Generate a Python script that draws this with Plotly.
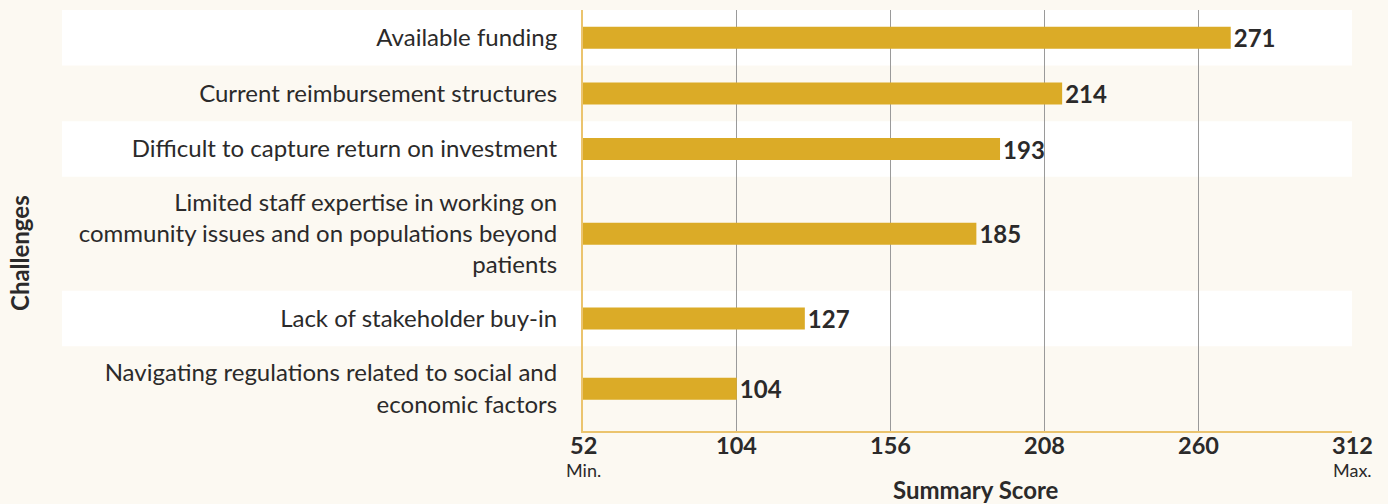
import plotly.graph_objects as go

# ---- data ----
challenges = [
    "Available funding",
    "Current reimbursement structures",
    "Difficult to capture return on investment",
    "Limited staff expertise in working on<br>community issues and on populations beyond<br>patients",
    "Lack of stakeholder buy-in",
    "Navigating regulations related to social and<br>economic factors",
]
scores = [271, 214, 193, 185, 127, 104]
x_ticks = [52, 104, 156, 208, 260, 312]
x_min_label = "Min."
x_max_label = "Max."
x_title = "Summary Score"
y_title = "Challenges"

# ---- styling ----
BG = "#fcf9f2"
BAR = "#dbab27"
AXIS_GOLD = "#ebc46e"
TEXT = "#2b2a2a"
FONT = "Lato"

# row layout derived from number of label lines
PAD, LINE_H = 26.0, 28.5
heights = [PAD + LINE_H * (lab.count("<br>") + 1) for lab in challenges]
bounds = [0.0]
for h in heights:
    bounds.append(bounds[-1] + h)
centers = [(bounds[i] + bounds[i + 1]) / 2 for i in range(len(heights))]
total = bounds[-1]

PLOT_L, PLOT_R, PLOT_T, PLOT_B = 583, 1352, 10, 431
W, H = 1388, 504
plot_h = PLOT_B - PLOT_T
unit_per_px = total / plot_h
bar_w = 22 * unit_per_px

fig = go.Figure(
    go.Bar(
        x=scores,
        y=centers,
        orientation="h",
        width=bar_w,
        marker=dict(color=BAR, line=dict(width=0)),
        text=[f"<b>{v}</b>" for v in scores],
        textposition="outside",
        constraintext="none",
        textfont=dict(family=FONT, size=24, color=TEXT),
        cliponaxis=False,
        hoverinfo="skip",
    )
)

# alternating row bands extending into the label area
band_x0 = (62 - PLOT_L) / (PLOT_R - PLOT_L)
for i in range(len(heights)):
    if i % 2 == 0:
        fig.add_shape(
            type="rect", xref="paper", yref="y",
            x0=band_x0, x1=1, y0=bounds[i], y1=bounds[i + 1],
            fillcolor="#ffffff", line=dict(width=0), layer="below",
        )

fig.update_xaxes(
    range=[x_ticks[0], x_ticks[-1]],
    tickvals=x_ticks,
    showticklabels=False,
    showgrid=True, gridcolor="#9a9a9a", gridwidth=1,
    showline=True, linecolor=AXIS_GOLD, linewidth=2,
    zeroline=False, ticks="",
)
fig.update_yaxes(
    range=[total, 0],
    tickvals=centers,
    ticktext=challenges,
    tickfont=dict(family=FONT, size=24, color=TEXT),
    showgrid=False, zeroline=False,
    showline=True, linecolor=AXIS_GOLD, linewidth=2,
    ticks="", ticklabelstandoff=19,
)

def px_x(px):
    return (px - PLOT_L) / (PLOT_R - PLOT_L)

def px_y(py):
    return (PLOT_B - py) / plot_h

# x tick labels (placed on the x axis scale)
for t in x_ticks:
    fig.add_annotation(text=f"<b>{t}</b>", x=t, xref="x", y=px_y(445), yref="paper",
                       showarrow=False, font=dict(family=FONT, size=23.5, color=TEXT),
                       xanchor="center", yanchor="middle", borderpad=0)

fig.add_annotation(text=x_min_label, x=x_ticks[0], xref="x", y=px_y(470), yref="paper",
                   showarrow=False, font=dict(family=FONT, size=18, color=TEXT),
                   xanchor="center", yanchor="middle", borderpad=0)
fig.add_annotation(text=x_max_label, x=x_ticks[-1], xref="x", y=px_y(470), yref="paper",
                   showarrow=False, font=dict(family=FONT, size=18, color=TEXT),
                   xanchor="center", yanchor="middle", borderpad=0)
fig.add_annotation(text=f"<b>{x_title}</b>", x=px_x(976), xref="paper", y=px_y(489), yref="paper",
                   showarrow=False, font=dict(family=FONT, size=24, color=TEXT),
                   xanchor="center", yanchor="middle")
fig.add_annotation(text=f"<b>{y_title}</b>", x=px_x(20), xref="paper", y=px_y(253), yref="paper",
                   showarrow=False, textangle=-90, font=dict(family=FONT, size=24, color=TEXT),
                   xanchor="center", yanchor="middle")

fig.update_layout(
    width=W, height=H,
    margin=dict(l=PLOT_L, r=W - PLOT_R, t=PLOT_T, b=H - PLOT_B, autoexpand=False),
    paper_bgcolor=BG, plot_bgcolor=BG,
    showlegend=False,
    font=dict(family=FONT, color=TEXT),
)

fig.write_html(
    "out.html",
    config={"displayModeBar": False},
    post_script="document.body.style.margin='0';document.body.style.background='" + BG + "';",
)
